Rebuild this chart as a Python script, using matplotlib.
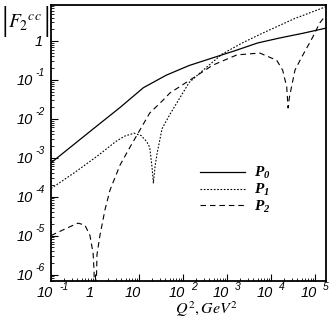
import matplotlib
matplotlib.use("Agg")
import matplotlib.pyplot as plt
from matplotlib.transforms import blended_transform_factory, offset_copy

# |F2cc| vs Q^2 for the three polynomial contributions
q2_p0 = [0.1, 0.348, 1.15, 3.81, 12.6, 41.7, 138, 457, 1510, 5010, 1.62e4, 5.37e4, 1.8e5]
f_p0 = [7.4e-4, 2.3e-3, 6.8e-3, 2.0e-2, 6.3e-2, 0.132, 0.234, 0.363, 0.56, 0.89, 1.2, 1.58, 2.14]

q2_p1 = [0.1, 0.348, 1.15, 3.0, 4.84, 7.8, 11.2, 14.9, 17.6, 19.9, 21.3, 23.4, 25.8,
         33.6, 52.8, 138, 282, 771, 2150, 5870, 3.37e4, 1.8e5]
f_p1 = [1.62e-4, 4.2e-4, 1.12e-3, 2.63e-3, 3.63e-3, 4.27e-3, 3.72e-3, 2.63e-3, 1.86e-3,
        5.6e-4, 2.24e-4, 6.3e-4, 1.26e-3, 5.6e-3, 1.41e-2, 8.5e-2, 0.174, 0.457, 0.87,
        1.51, 3.72, 7.6]

q2_p2 = [0.1, 0.216, 0.412, 0.59, 0.767, 0.908, 0.953, 1.0, 1.11, 1.30, 1.69, 2.20, 3.72,
         5.33, 6.31, 17.6, 35.2, 50.5, 171, 479, 1700, 5610, 1.36e4, 1.86e4, 2.3e4,
         2.47e4, 2.65e4, 3.54e4, 5.07e4, 8.99e4, 1.29e5, 1.8e5]
f_p2 = [1.0e-5, 1.51e-5, 2.09e-5, 1.86e-5, 1.02e-5, 3.5e-6, 1.26e-6, 1e-8, 3.2e-6,
        1.02e-5, 4.6e-5, 1.48e-4, 6.5e-4, 1.35e-3, 1.9e-3, 1.41e-2, 3.0e-2, 4.6e-2,
        0.112, 0.24, 0.44, 0.49, 0.32, 0.178, 0.066, 0.019, 0.036, 0.178, 0.39, 1.26,
        2.88, 4.68]

labels = [r'$\mathbf{P_0}$', r'$\mathbf{P_1}$', r'$\mathbf{P_2}$']

# tick positions with (mantissa, exponent) labels
xticks = [1e-1, 1, 10, 1e2, 1e3, 1e4, 1e5]
xtick_base = ['10', '1', '10', '10', '10', '10', '10']
xtick_exp = ['-1', '', '', '2', '3', '4', '5']
yticks = [1e-6, 1e-5, 1e-4, 1e-3, 1e-2, 1e-1, 1]
ytick_base = ['10', '10', '10', '10', '10', '10', '1']
ytick_exp = ['-6', '-5', '-4', '-3', '-2', '-1', '']

plt.rcParams['mathtext.fontset'] = 'custom'
plt.rcParams['mathtext.bf'] = 'Liberation Serif:bold:italic'

W, H = 332, 322
fig = plt.figure(figsize=(W / 100, H / 100), dpi=100)
ax = fig.add_axes([51/W, 1 - 281/H, 275/W, 276/H])

ax.plot(q2_p0, f_p0, color='black', lw=0.9, ls='-', label=labels[0])
ax.plot(q2_p1, f_p1, color='black', lw=0.8, ls=(0, (1.5, 1.5)), label=labels[1])
ax.plot(q2_p2, f_p2, color='black', lw=0.8, ls=(0, (5, 3.5)), label=labels[2])

ax.set_xscale('log')
ax.set_yscale('log')
ax.set_xlim(0.1, 1.8e5)
ax.set_ylim(10**-6.167, 10**0.925)

ax.set_xticks(xticks)
ax.set_yticks(yticks)
ax.set_xticklabels([])
ax.set_yticklabels([])
ax.tick_params(which='major', direction='in', length=5, width=0.8)
ax.tick_params(which='minor', direction='in', length=2.5, width=0.6)
for s in ax.spines.values():
    s.set_linewidth(1.3)

tick_font = dict(family='Liberation Sans', style='italic')

# x tick labels: "10" ending at the tick, exponent raised to its right
tx = blended_transform_factory(ax.transData, ax.transAxes)
for t, b, e in zip(xticks, xtick_base, xtick_exp):
    dx = 2 if len(b) == 2 else -1
    ax.text(t, 0, b, transform=offset_copy(tx, fig=fig, x=dx, y=-16, units='dots'),
            ha='right', va='baseline', fontsize=10.5, **tick_font)
    if e:
        ax.text(t, 0, e, transform=offset_copy(tx, fig=fig, x=8, y=-9, units='dots'),
                ha='left', va='baseline', fontsize=7.5, **tick_font)

# y tick labels
ty = blended_transform_factory(ax.transAxes, ax.transData)
for t, b, e in zip(yticks, ytick_base, ytick_exp):
    if e:
        ax.text(0, t, b, transform=offset_copy(ty, fig=fig, x=-18, y=-5, units='dots'),
                ha='right', va='baseline', fontsize=10.5, **tick_font)
        ax.text(0, t, e, transform=offset_copy(ty, fig=fig, x=-16, y=4, units='dots'),
                ha='left', va='baseline', fontsize=7.5, **tick_font)
    else:
        ax.text(0, t, b, transform=offset_copy(ty, fig=fig, x=-8, y=-5, units='dots'),
                ha='right', va='baseline', fontsize=10.5, **tick_font)

ax.legend(loc='upper left', bbox_to_anchor=(0.54, 0.42), frameon=False,
          handlelength=3.0, handletextpad=0.6, labelspacing=0.05,
          borderpad=0, borderaxespad=0, fontsize=11)

# y axis title |F2^cc| in the top-left corner
fig.text(2/W, 1 - 30/H, '|', ha='left', va='baseline', fontsize=24,
         family='Liberation Serif')
fig.text(8/W, 1 - 28/H, r'$F_2{}^{cc}$', ha='left', va='baseline',
         fontsize=14, math_fontfamily='stix')
fig.text(43/W, 1 - 30/H, '|', ha='left', va='baseline', fontsize=24,
         family='Liberation Serif')

fig.text(207/W, 1 - 309/H, r'$Q^2,GeV^2$', ha='center', va='center',
         fontsize=11.5, math_fontfamily='stix')

fig.savefig('out.png', dpi=100)
